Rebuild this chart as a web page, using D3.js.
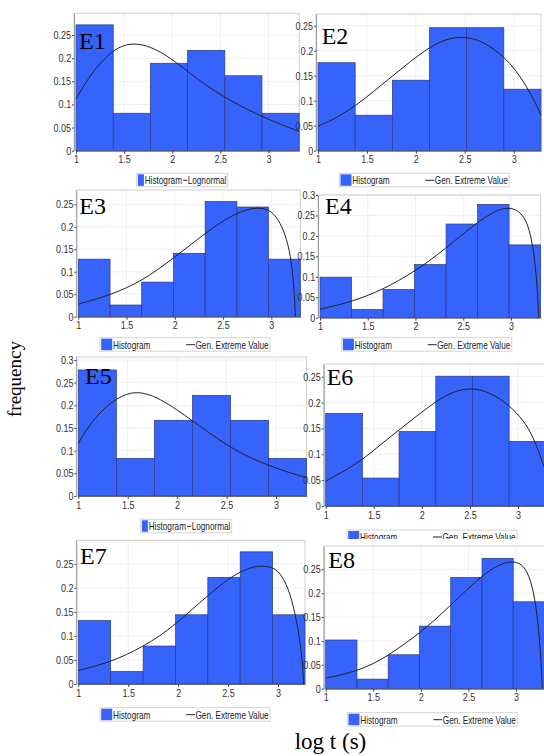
<!DOCTYPE html>
<html>
<head>
<meta charset="utf-8">
<script src="https://cdn.jsdelivr.net/npm/d3@7"></script>
<style>
	body { margin: 0; background: #fff; }
	svg { display: block; }
	.axis text { font-family: 'Liberation Sans', Arial, sans-serif; font-size: 11px; fill: #333; }
	.legend text { font-family: 'Liberation Sans', Arial, sans-serif; font-size: 10px; fill: #222; }
	.tag { font-family: 'Liberation Serif', 'Times New Roman', serif; font-size: 24px; fill: #000; }
	.title { font-family: 'Liberation Serif', 'Times New Roman', serif; fill: #000; }
</style>
</head>
<body>
<svg id="chart" width="544" height="756"></svg>
<script>

// panel names and fitted distribution of each panel
var panelNames = ['E1', 'E2', 'E3', 'E4', 'E5', 'E6', 'E7', 'E8'];
var fitNames = ['Lognormal', 'Gen. Extreme Value', 'Gen. Extreme Value', 'Gen. Extreme Value',
	'Lognormal', 'Gen. Extreme Value', 'Gen. Extreme Value', 'Gen. Extreme Value'];

var xTicks = [1, 1.5, 2, 2.5, 3];

// histogram bin edges (log t) and frequencies
var e1Edges = [1, 1.387, 1.773, 2.16, 2.547, 2.933, 3.32];
var e1Freq = [0.272, 0.081, 0.189, 0.217, 0.162, 0.081];
var e2Edges = [1, 1.380, 1.760, 2.139, 2.519, 2.899, 3.279];
var e2Freq = [0.176, 0.071, 0.141, 0.246, 0.246, 0.123];
var e3Edges = [1, 1.329, 1.657, 1.986, 2.314, 2.643, 2.971, 3.30];
var e3Freq = [0.128, 0.026, 0.077, 0.141, 0.256, 0.244, 0.128];
var e4Edges = [1, 1.33, 1.66, 1.99, 2.32, 2.65, 2.98, 3.31];
var e4Freq = [0.099, 0.020, 0.069, 0.130, 0.229, 0.277, 0.178];
var e5Edges = [1, 1.385, 1.77, 2.155, 2.54, 2.925, 3.31];
var e5Freq = [0.278, 0.083, 0.167, 0.222, 0.167, 0.083];
var e6Edges = [1, 1.382, 1.763, 2.145, 2.527, 2.908, 3.29];
var e6Freq = [0.179, 0.054, 0.144, 0.251, 0.251, 0.125];
var e7Edges = [1, 1.324, 1.649, 1.973, 2.297, 2.621, 2.946, 3.27];
var e7Freq = [0.132, 0.026, 0.079, 0.144, 0.222, 0.275, 0.144];
var e8Edges = [1, 1.329, 1.657, 1.986, 2.314, 2.643, 2.971, 3.30];
var e8Freq = [0.102, 0.020, 0.071, 0.131, 0.233, 0.273, 0.182];

// fitted curves, [log t, frequency]
var e1Curve = [[1.000, 0.112], [1.080, 0.140], [1.184, 0.173], [1.288, 0.197], [1.392, 0.217], [1.495, 0.228],
	[1.610, 0.232], [1.738, 0.227], [1.877, 0.214], [2.015, 0.195], [2.188, 0.167], [2.362, 0.140],
	[2.535, 0.117], [2.708, 0.0965], [2.881, 0.079], [3.055, 0.063], [3.315, 0.042]];
var e2Curve = [[1.000, 0.049], [1.157, 0.062], [1.381, 0.089], [1.565, 0.118], [1.760, 0.149], [1.940, 0.178],
	[2.138, 0.207], [2.315, 0.224], [2.495, 0.229], [2.689, 0.219], [2.897, 0.189], [3.030, 0.159],
	[3.132, 0.128], [3.217, 0.098], [3.279, 0.071]];
var e3Curve = [[1.000, 0.028], [1.155, 0.037], [1.328, 0.049], [1.501, 0.064], [1.656, 0.081], [1.812, 0.103],
	[1.984, 0.130], [2.157, 0.159], [2.320, 0.186], [2.468, 0.209], [2.648, 0.231], [2.813, 0.243],
	[2.952, 0.240], [3.021, 0.230], [3.090, 0.210], [3.159, 0.174], [3.211, 0.122], [3.238, 0.056], [3.249, 0]];
var e4Curve = [[1.000, 0.021], [1.175, 0.030], [1.328, 0.040], [1.489, 0.053], [1.656, 0.070], [1.820, 0.090],
	[1.984, 0.113], [2.152, 0.140], [2.316, 0.170], [2.483, 0.202], [2.644, 0.232], [2.815, 0.259],
	[2.948, 0.270], [3.059, 0.265], [3.147, 0.245], [3.206, 0.205], [3.251, 0.140], [3.276, 0.070], [3.290, 0]];
var e5Curve = [[1.000, 0.116], [1.084, 0.147], [1.185, 0.176], [1.287, 0.198], [1.384, 0.214], [1.489, 0.225],
	[1.583, 0.229], [1.691, 0.226], [1.826, 0.214], [1.995, 0.191], [2.153, 0.166], [2.332, 0.138],
	[2.500, 0.113], [2.669, 0.092], [2.837, 0.075], [2.999, 0.062], [3.141, 0.051], [3.303, 0.041]];
var e6Curve = [[1.000, 0.048], [1.149, 0.063], [1.381, 0.089], [1.565, 0.118], [1.763, 0.147], [1.946, 0.174],
	[2.144, 0.202], [2.328, 0.222], [2.518, 0.229], [2.709, 0.220], [2.903, 0.196], [3.056, 0.166],
	[3.160, 0.134], [3.271, 0.076]];
var e7Curve = [[1.000, 0.028], [1.150, 0.036], [1.324, 0.047], [1.484, 0.061], [1.644, 0.078], [1.818, 0.100],
	[1.968, 0.124], [2.118, 0.151], [2.292, 0.183], [2.452, 0.211], [2.612, 0.233], [2.753, 0.244],
	[2.836, 0.246], [2.943, 0.243], [3.020, 0.232], [3.103, 0.200], [3.170, 0.150], [3.220, 0.090],
	[3.247, 0.040], [3.257, 0]];
var e8Curve = [[1.000, 0.022], [1.168, 0.029], [1.329, 0.038], [1.501, 0.052], [1.659, 0.070], [1.823, 0.093],
	[1.988, 0.117], [2.149, 0.144], [2.314, 0.175], [2.482, 0.207], [2.643, 0.236], [2.797, 0.258],
	[2.955, 0.268], [3.060, 0.262], [3.140, 0.238], [3.200, 0.190], [3.242, 0.120], [3.267, 0.050], [3.277, 0]];

var edgeList = [e1Edges, e2Edges, e3Edges, e4Edges, e5Edges, e6Edges, e7Edges, e8Edges];
var freqList = [e1Freq, e2Freq, e3Freq, e4Freq, e5Freq, e6Freq, e7Freq, e8Freq];
var curveList = [e1Curve, e2Curve, e3Curve, e4Curve, e5Curve, e6Curve, e7Curve, e8Curve];

// where each pasted sub-chart sits in the figure (pixels) + its axis ranges
var layout = [
	{ left: 76, right: 299.2, top: 13.3, bottom: 150.7, xMax: 3.32, yMax: 0.297, tag: [79, 49], legend: [136.7, 173.3] },
	{ left: 318, right: 541, top: 14, bottom: 150.7, xMax: 3.279, yMax: 0.2734, tag: [321.7, 43.5], legend: [339.3, 173.3] },
	{ left: 78.3, right: 300.3, top: 190, bottom: 316.7, xMax: 3.30, yMax: 0.2818, tag: [79.3, 214], legend: [100, 337.7] },
	{ left: 320, right: 540.6, top: 195, bottom: 317.7, xMax: 3.31, yMax: 0.30, tag: [325, 214.3], legend: [341.7, 337.7] },
	{ left: 78.3, right: 306.6, top: 357, bottom: 496, xMax: 3.31, yMax: 0.3066, tag: [85, 384.3], legend: [140.7, 519.3] },
	{ left: 325.7, right: 545.9, top: 364, bottom: 506, xMax: 3.29, yMax: 0.2746, tag: [326.7, 385], legend: [347, 530], clipBottom: 539 },
	{ left: 78.3, right: 305, top: 540.3, bottom: 684, xMax: 3.27, yMax: 0.299, tag: [80, 564.3], legend: [100, 707.7] },
	{ left: 325.7, right: 544.5, top: 546, bottom: 688.7, xMax: 3.30, yMax: 0.2988, tag: [328.3, 568.3], legend: [347.3, 712.7] }
];

var barFill = '#3563fb';
var barStroke = '#2b3a85';
// the pasted screenshots use a condensed sans, squeeze Liberation Sans to match
var squeeze = 0.82;

var svg = d3.select('#chart');

svg.append('defs').append('clipPath')
	.attr('id', 'clipE6')
	.append('rect')
	.attr('x', 280).attr('y', 500).attr('width', 264).attr('height', 39);

panelNames.forEach(function(name, i){
	drawPanel(i);
});

function drawPanel(i) {
	var L = layout[i];
	var edges = edgeList[i];
	var freq = freqList[i];
	var curve = curveList[i];

	var x = d3.scaleLinear().domain([1, L.xMax]).range([L.left, L.right]);
	var y = d3.scaleLinear().domain([0, L.yMax]).range([L.bottom, L.top]);
	var yTicks = d3.range(0, L.yMax + 1e-6, 0.05);

	var g = svg.append('g');

	// faint grid
	g.selectAll('.vgrid').data(xTicks.slice(1)).enter().append('line')
		.attr('x1', d => x(d)).attr('x2', d => x(d))
		.attr('y1', L.top).attr('y2', L.bottom)
		.attr('stroke', '#efefef');
	g.selectAll('.hgrid').data(yTicks.slice(1)).enter().append('line')
		.attr('x1', L.left - 2).attr('x2', L.right)
		.attr('y1', d => y(d)).attr('y2', d => y(d))
		.attr('stroke', '#efefef');

	// plot frame
	g.append('rect')
		.attr('x', L.left - 2).attr('y', L.top)
		.attr('width', L.right - L.left + 2).attr('height', L.bottom - L.top)
		.attr('fill', 'none')
		.attr('stroke', '#cfcfcf');

	// histogram bars
	g.selectAll('.bar').data(freq).enter().append('rect')
		.attr('x', (d, j) => x(edges[j]))
		.attr('y', d => y(d))
		.attr('width', (d, j) => x(edges[j + 1]) - x(edges[j]))
		.attr('height', d => y(0) - y(d))
		.attr('fill', barFill)
		.attr('stroke', barStroke)
		.attr('stroke-width', 0.7);

	// fitted distribution
	var line = d3.line()
		.x(d => x(d[0]))
		.y(d => y(d[1]))
		.curve(d3.curveBasis);
	g.append('path')
		.attr('d', line(curve))
		.attr('fill', 'none')
		.attr('stroke', '#222')
		.attr('stroke-width', 1);

	// axes
	var xAxis = d3.axisBottom(x).tickValues(xTicks).tickFormat(d => String(d))
		.tickSize(3).tickSizeOuter(0).tickPadding(2);
	var yAxis = d3.axisLeft(y).tickValues(yTicks).tickFormat(d => String(+d.toFixed(2)))
		.tickSize(2).tickSizeOuter(0).tickPadding(1.5);

	var gx = g.append('g').attr('class', 'axis')
		.attr('transform', `translate(0, ${L.bottom})`)
		.call(xAxis);
	var gy = g.append('g').attr('class', 'axis')
		.attr('transform', `translate(${L.left - 2}, 0)`)
		.call(yAxis);
	gx.select('.domain').attr('stroke', '#666');
	gy.select('.domain').attr('stroke', '#999');
	gx.selectAll('.tick line').attr('stroke', '#444');
	gy.selectAll('.tick line').attr('stroke', '#444');
	gx.selectAll('text').attr('transform', `scale(${squeeze}, 1)`);
	gy.selectAll('text').attr('transform', `scale(${squeeze}, 1)`);

	// panel tag E1..E8
	g.append('text')
		.attr('class', 'tag')
		.attr('x', L.tag[0]).attr('y', L.tag[1])
		.text(panelNames[i]);

	drawLegend(i, L);
}

function drawLegend(i, L) {
	var host = svg;
	if (L.clipBottom) {
		// E6 legend is partly hidden under the E8 screenshot
		host = svg.append('g').attr('clip-path', 'url(#clipE6)');
	}
	var lg = host.append('g')
		.attr('class', 'legend')
		.attr('transform', `translate(${L.legend[0]}, ${L.legend[1]})`);

	var isLogn = fitNames[i] === 'Lognormal';
	// short legend for lognormal panels, wide one for GEV panels
	var boxW = isLogn ? 91 : 170;
	var swW = isLogn ? 6 : 11;
	var lineX = isLogn ? [46.5, 50.5] : [86, 95];

	lg.append('rect')
		.attr('x', 0).attr('y', 0)
		.attr('width', boxW).attr('height', 13.5)
		.attr('fill', '#fff')
		.attr('stroke', '#d4d4d4');
	lg.append('rect')
		.attr('x', 1.2).attr('y', 1)
		.attr('width', swW).attr('height', 11.5)
		.attr('fill', barFill);
	lg.append('text')
		.attr('transform', `translate(${swW + 2}, 11) scale(${squeeze}, 1)`)
		.text('Histogram');
	lg.append('line')
		.attr('x1', lineX[0]).attr('x2', lineX[1])
		.attr('y1', 7).attr('y2', 7)
		.attr('stroke', '#222');
	lg.append('text')
		.attr('transform', `translate(${lineX[1] + 0.5}, 11) scale(${squeeze}, 1)`)
		.text(fitNames[i]);
}

// shared axis titles
svg.append('text')
	.attr('class', 'title')
	.attr('transform', 'translate(21, 379) rotate(-90)')
	.attr('text-anchor', 'middle')
	.style('font-size', '19px')
	.text('frequency');

svg.append('text')
	.attr('class', 'title')
	.attr('x', 330.5).attr('y', 749)
	.attr('text-anchor', 'middle')
	.style('font-size', '23px')
	.text('log t (s)');

</script>
</body>
</html>
